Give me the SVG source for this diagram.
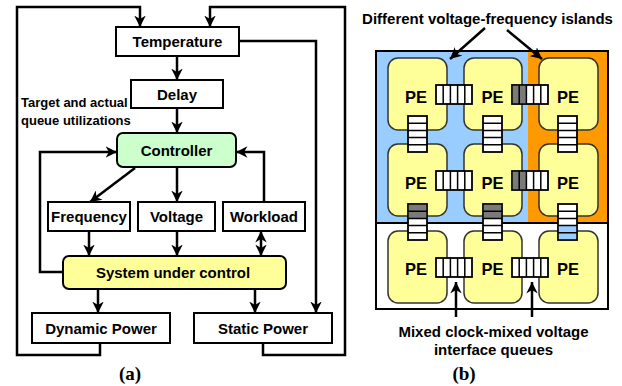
<svg xmlns="http://www.w3.org/2000/svg" width="622" height="386" viewBox="0 0 622 386">
<style>
.box{fill:#fff;stroke:#000;stroke-width:2}
.t{font-family:"Liberation Sans",Arial,sans-serif;font-weight:bold;font-size:15px;text-anchor:middle;fill:#000}
.s{font-family:"Liberation Sans",Arial,sans-serif;font-weight:bold;font-size:13px;fill:#000}
.pe{fill:#ffff99;stroke:#333;stroke-width:1.5}
.pt{font-family:"Liberation Sans",Arial,sans-serif;font-weight:bold;font-size:16.5px;text-anchor:middle;fill:#000}
.ln{fill:none;stroke:#000;stroke-width:2.5}
.q{fill:#fff;stroke:#000;stroke-width:1.8}
.qd{fill:#7a7a7a}
.qb{fill:#99ccff}
.lab{font-family:"Liberation Serif","Times New Roman",serif;font-weight:bold;font-size:19px;text-anchor:middle}
</style>
<defs>
<marker id="ah" viewBox="0 0 10 10" refX="10" refY="5" markerWidth="11.5" markerHeight="11.5" markerUnits="userSpaceOnUse" orient="auto-start-reverse">
<path d="M0,0 L10,5 L0,10 L3,5 z" fill="#000"/>
</marker>
</defs>

<!-- Panel (a) -->
<g id="connectors">
<path class="ln" d="M100,343 V355 H17 V7 H140 V27" marker-end="url(#ah)"/>
<path class="ln" d="M263,343 V355 H345 V7 H210 V27" marker-end="url(#ah)"/>
<path class="ln" d="M239,41 H316 V313" marker-end="url(#ah)"/>
<path class="ln" d="M177,56 V80" marker-end="url(#ah)"/>
<path class="ln" d="M177,108 V133" marker-end="url(#ah)"/>
<path class="ln" d="M63,272 H40 V152 H117" marker-end="url(#ah)"/>
<path class="ln" d="M264,202 V152 H236" marker-end="url(#ah)"/>
<path class="ln" d="M135,168 L90,202" marker-end="url(#ah)"/>
<path class="ln" d="M177,167 V202" marker-end="url(#ah)"/>
<path class="ln" d="M89,231 V256" marker-end="url(#ah)"/>
<path class="ln" d="M177,231 V256" marker-end="url(#ah)"/>
<path class="ln" d="M261,231 V256" marker-start="url(#ah)" marker-end="url(#ah)"/>
<path class="ln" d="M98,289 V313" marker-end="url(#ah)"/>
<path class="ln" d="M255,289 V313" marker-end="url(#ah)"/>
</g>

<g id="temperature"><rect class="box" x="116" y="27" width="123" height="29"/><text class="t" x="177.5" y="47">Temperature</text></g>
<g id="delay"><rect class="box" x="131" y="80" width="92" height="28"/><text class="t" x="177" y="99.5">Delay</text></g>
<g id="target-label"><text class="s" x="21" y="107">Target and actual</text><text class="s" x="21" y="125">queue utilizations</text></g>
<g id="controller"><rect x="117" y="133" width="119" height="34" rx="6" fill="#ccffcc" stroke="#000" stroke-width="2"/><text class="t" x="176.5" y="155.5">Controller</text></g>
<g id="frequency"><rect class="box" x="48" y="202" width="82" height="29"/><text class="t" x="89" y="222">Frequency</text></g>
<g id="voltage"><rect class="box" x="138" y="202" width="77" height="29"/><text class="t" x="176.5" y="222">Voltage</text></g>
<g id="workload"><rect class="box" x="223" y="202" width="82" height="29"/><text class="t" x="264" y="222">Workload</text></g>
<g id="system"><rect x="63" y="256" width="223" height="33" rx="6" fill="#ffff99" stroke="#000" stroke-width="2"/><text class="t" x="173" y="278">System under control</text></g>
<g id="dynamic-power"><rect class="box" x="32" y="313" width="138" height="30"/><text class="t" x="101" y="334">Dynamic Power</text></g>
<g id="static-power"><rect class="box" x="194" y="313" width="138" height="30"/><text class="t" x="263" y="334">Static Power</text></g>
<text class="lab" x="130" y="380">(a)</text>

<!-- Panel (b) -->
<g id="islands">
<rect x="376" y="51" width="152" height="172" fill="#99ccff"/>
<rect x="528" y="51" width="80" height="172" fill="#ff9900"/>
<rect x="376" y="223" width="232" height="86" fill="#fff"/>
<rect x="376" y="51" width="232" height="258" fill="none" stroke="#000" stroke-width="2"/>
<line x1="376" y1="223" x2="608" y2="223" stroke="#000" stroke-width="2"/>
</g>

<g id="pe-grid">
<rect class="pe" x="388" y="58" width="59" height="72" rx="10"/>
<rect class="pe" x="464" y="58" width="58" height="72" rx="10"/>
<rect class="pe" x="539" y="58" width="59" height="72" rx="10"/>
<rect class="pe" x="388" y="144" width="59" height="72" rx="10"/>
<rect class="pe" x="464" y="144" width="58" height="72" rx="10"/>
<rect class="pe" x="539" y="144" width="59" height="72" rx="10"/>
<rect class="pe" x="388" y="231" width="59" height="72" rx="10"/>
<rect class="pe" x="464" y="231" width="58" height="72" rx="10"/>
<rect class="pe" x="539" y="231" width="59" height="72" rx="10"/>
<text class="pt" x="416" y="103">PE</text>
<text class="pt" x="492.5" y="103">PE</text>
<text class="pt" x="568" y="103">PE</text>
<text class="pt" x="416" y="189">PE</text>
<text class="pt" x="492.5" y="189">PE</text>
<text class="pt" x="568" y="189">PE</text>
<text class="pt" x="416" y="275">PE</text>
<text class="pt" x="492.5" y="275">PE</text>
<text class="pt" x="568" y="275">PE</text>
</g>

<g id="queues" stroke="#000" stroke-width="1.5">
<!-- horizontal row 1 -->
<rect class="q" x="436" y="85" width="36" height="19"/>
<path d="M443.2,85V104M450.4,85V104M457.6,85V104M464.8,85V104"/>
<rect class="q" x="512" y="85" width="36" height="19"/>
<rect class="qd" x="512.9" y="85.9" width="13.5" height="17.2" stroke="none"/>
<path d="M519.2,85V104M526.4,85V104M533.6,85V104M540.8,85V104"/>
<!-- horizontal row 2 -->
<rect class="q" x="436" y="171" width="36" height="19"/>
<path d="M443.2,171V190M450.4,171V190M457.6,171V190M464.8,171V190"/>
<rect class="q" x="512" y="171" width="36" height="19"/>
<rect class="qd" x="512.9" y="171.9" width="13.5" height="17.2" stroke="none"/>
<path d="M519.2,171V190M526.4,171V190M533.6,171V190M540.8,171V190"/>
<!-- horizontal row 3 -->
<rect class="q" x="436" y="258" width="36" height="19"/>
<path d="M443.2,258V277M450.4,258V277M457.6,258V277M464.8,258V277"/>
<rect class="q" x="512" y="258" width="36" height="19"/>
<path d="M519.2,258V277M526.4,258V277M533.6,258V277M540.8,258V277"/>
<!-- vertical upper -->
<rect class="q" x="408" y="116" width="19" height="36"/>
<path d="M408,123.2H427M408,130.4H427M408,137.6H427M408,144.8H427"/>
<rect class="q" x="483" y="116" width="19" height="36"/>
<path d="M483,123.2H502M483,130.4H502M483,137.6H502M483,144.8H502"/>
<rect class="q" x="558" y="116" width="19" height="36"/>
<path d="M558,123.2H577M558,130.4H577M558,137.6H577M558,144.8H577"/>
<!-- vertical lower -->
<rect class="q" x="408" y="204" width="19" height="36"/>
<rect class="qd" x="408.9" y="204.9" width="17.2" height="13.5" stroke="none"/>
<path d="M408,211.2H427M408,218.4H427M408,225.6H427M408,232.8H427"/>
<rect class="q" x="483" y="204" width="19" height="36"/>
<rect class="qd" x="483.9" y="204.9" width="17.2" height="13.5" stroke="none"/>
<path d="M483,211.2H502M483,218.4H502M483,225.6H502M483,232.8H502"/>
<rect class="q" x="558" y="204" width="19" height="36"/>
<rect class="qb" x="558.9" y="225.6" width="17.2" height="13.5" stroke="none"/>
<path d="M558,211.2H577M558,218.4H577M558,225.6H577M558,232.8H577"/>
</g>

<g id="b-annotations">
<text class="t" x="487.5" y="24">Different voltage-frequency islands</text>
<path class="ln" d="M485,28 L450,59" marker-end="url(#ah)"/>
<path class="ln" d="M507,30 L542,59" marker-end="url(#ah)"/>
<path class="ln" d="M456,317 V282" marker-end="url(#ah)"/>
<path class="ln" d="M532,317 V282" marker-end="url(#ah)"/>
<text class="t" x="493.5" y="337">Mixed clock-mixed voltage</text>
<text class="t" x="493.5" y="355">interface queues</text>
</g>
<text class="lab" x="464" y="380">(b)</text>
</svg>
